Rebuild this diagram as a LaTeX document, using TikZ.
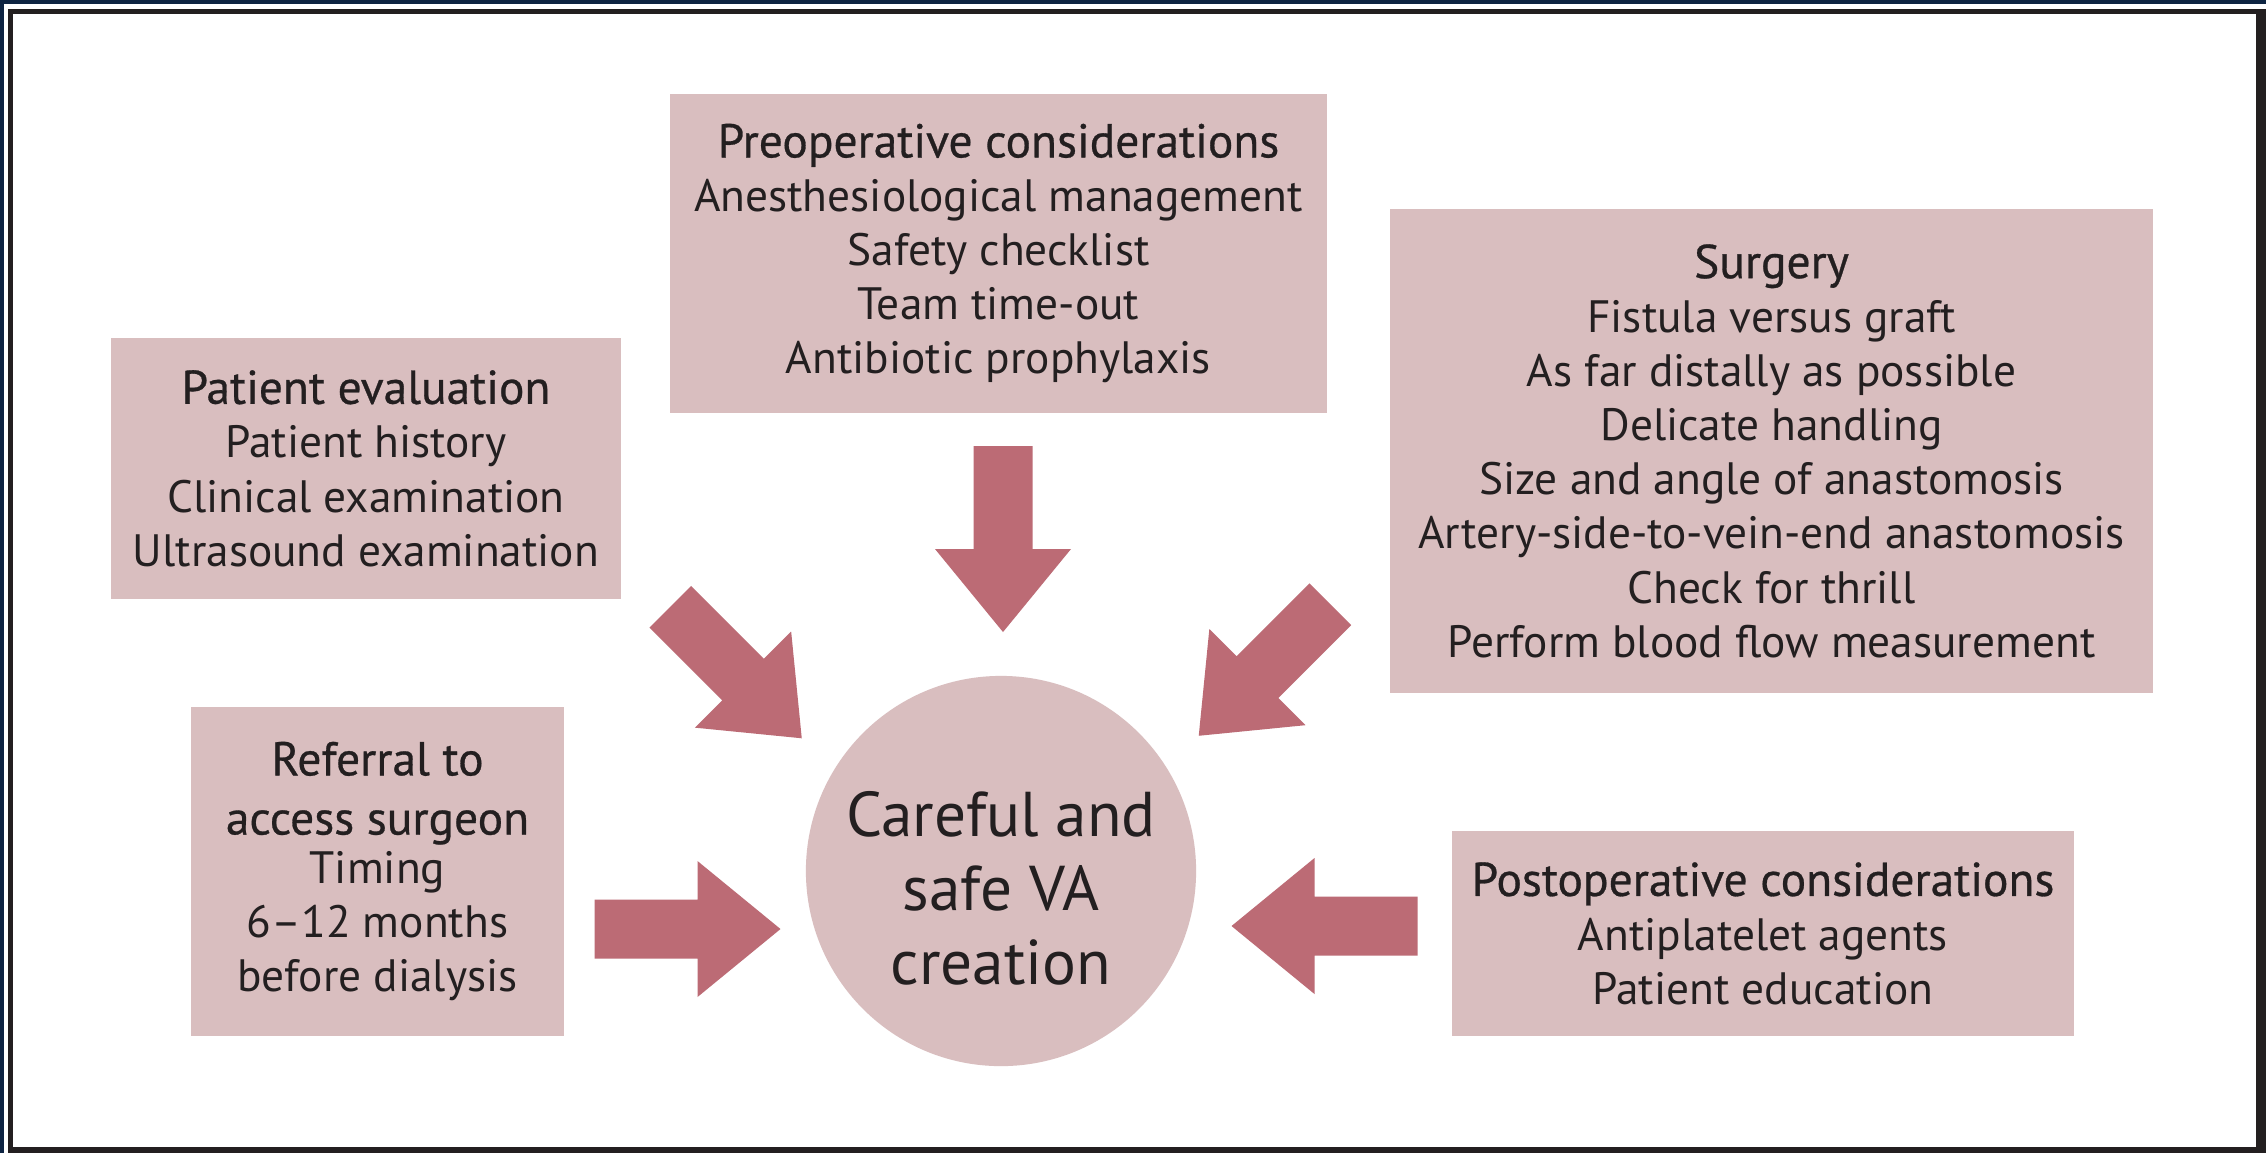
\documentclass[tikz,border=0pt]{standalone}
\usepackage{fontspec}
\setmainfont{PT Sans}
\newfontfamily\headfamily[FakeBold=0.6]{PT Sans}
\usepackage{tikz}
\usetikzlibrary{positioning}
\definecolor{boxpink}{RGB}{217,190,191}
\definecolor{arrowrose}{RGB}{188,107,117}
\definecolor{framenavy}{RGB}{14,36,66}
\definecolor{framedark}{RGB}{35,31,32}
\newcommand{\headline}[1]{{\headfamily\fontsize{13.5}{15.4}\selectfont #1}}

\begin{document}
\begin{tikzpicture}[x=0.01cm, y=-0.01cm,
  infobox/.style={fill=boxpink, text=framedark, align=center, inner sep=0pt,
    font=\fontsize{12.9}{15.4}\selectfont},
  hub/.style={circle, fill=boxpink, inner sep=0pt, minimum size=3.9cm},
  hubtext/.style={text=framedark, align=center, inner sep=0pt,
    font=\fontsize{18}{21}\selectfont},
  inarrow/.pic={\fill[arrowrose] (-93,-29.5) -- (10,-29.5) -- (10,-68) -- (93,0)
    -- (10,68) -- (10,29.5) -- (-93,29.5) -- cycle;}]
\useasboundingbox (0,0) rectangle (2266,1153);
% frame
\fill[framenavy] (0,0) rectangle (2266,4);
\fill[framenavy] (0,0) rectangle (4,1153);
\fill[framedark] (8,9) rectangle (2266,1153);
\fill[white] (13,14) rectangle (2256,1147);

\node[infobox, minimum width=5.1cm, minimum height=2.61cm] (pateval) at (366,468.5)
  {\headline{Patient evaluation}\\Patient history\\Clinical examination\\Ultrasound examination};
\node[infobox, minimum width=6.57cm, minimum height=3.19cm] (preop) at (998.5,253.5)
  {\headline{Preoperative considerations}\\Anesthesiological management\\Safety checklist\\Team time-out\\Antibiotic prophylaxis};
\node[infobox, minimum width=7.63cm, minimum height=4.84cm] (surgery) at (1771.5,451)
  {\headline{Surgery}\\Fistula versus graft\\As far distally as possible\\Delicate handling\\Size and angle of anastomosis\\Artery-side-to-vein-end anastomosis\\Check for thrill\\Perform blood flow measurement};
\node[infobox, minimum width=3.73cm, minimum height=3.29cm] (referral) at (377.5,871.5)
  {\headline{Referral to}\\[0.05cm]\headline{access surgeon}\\[-0.05cm]Timing\\6--12 months\\before dialysis};
\node[infobox, minimum width=6.22cm, minimum height=2.05cm] (postop) at (1763,933.5)
  {\headline{Postoperative considerations}\\Antiplatelet agents\\Patient education};
\node[hub] (va) at (1001,871) {};
\node[hubtext] (vatext) at ([yshift=-0.17cm]va.center) {Careful and\\safe VA\\creation};

% arrows into the hub
\pic[rotate=-45] at (736,672.5) {inarrow};% from pateval
\pic[rotate=-90] at (1003,539) {inarrow};% from preop
\pic[rotate=-135] at (1264.5,670) {inarrow};% from surgery
\pic at (687.5,929) {inarrow};% from referral
\pic[rotate=180] at (1324.5,926) {inarrow};% from postop
\end{tikzpicture}
\end{document}
